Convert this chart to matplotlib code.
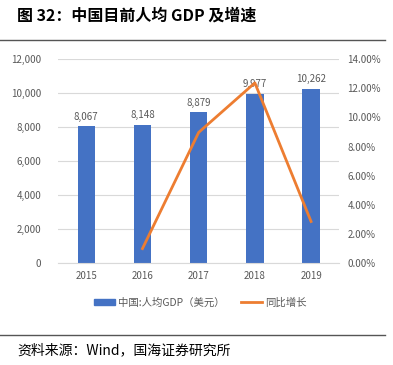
import numpy as np
import matplotlib.pyplot as plt
from matplotlib.lines import Line2D
from matplotlib.patches import Patch

plt.rcParams['font.family'] = ['Noto Sans CJK SC', 'DejaVu Sans']

years = ['2015', '2016', '2017', '2018', '2019']
gdp = [8067, 8148, 8879, 9977, 10262]
growth = [None, 1.00, 8.97, 12.37, 2.86]
gdp_labels = ['8,067', '8,148', '8,879', '9,977', '10,262']

gray = '#595959'
fig = plt.figure(figsize=(3.93, 3.65), dpi=100)
ax = fig.add_axes([0.148, 0.279, 0.715, 0.559])

x = np.arange(len(years))
ax.bar(x, gdp, width=0.31, color='#4472C4', zorder=2)
for xi, v, lab in zip(x, gdp, gdp_labels):
    ax.text(xi, v + 250, lab, ha='center', va='bottom', fontsize=7, color=gray)

ax.set_ylim(0, 12000)
ax.set_xlim(-0.5, 4.5)
ax.set_yticks(np.arange(0, 12001, 2000))
ax.set_yticklabels([f'{v:,}' for v in range(0, 12001, 2000)])
ax.set_xticks(x)
ax.set_xticklabels(years)
ax.grid(axis='y', color='#d9d9d9', lw=0.8, zorder=0)
for s in ['top', 'right', 'left']:
    ax.spines[s].set_visible(False)
ax.spines['bottom'].set_color('#d9d9d9')
ax.tick_params(axis='both', colors=gray, labelsize=7, length=0)
ax.tick_params(axis='y', pad=12)
ax.tick_params(axis='x', pad=6)

ax2 = ax.twinx()
gx = [xi for xi, g in zip(x, growth) if g is not None]
gy = [g for g in growth if g is not None]
ax2.plot(gx, gy, color='#ED7D31', lw=2, zorder=3)
ax2.set_ylim(0, 14)
ax2.set_yticks(np.arange(0, 14.1, 2))
ax2.set_yticklabels([f'{v:.2f}%' for v in np.arange(0, 14.1, 2)])
for s in ax2.spines.values():
    s.set_visible(False)
ax2.tick_params(axis='y', colors=gray, labelsize=7, length=0, pad=6)

handles = [Patch(color='#4472C4'), Line2D([], [], color='#ED7D31', lw=2)]
fig.legend(handles, ['中国:人均GDP（美元）', '同比增长'], loc='center',
           bbox_to_anchor=(0.51, 0.172), ncol=2, frameon=False, fontsize=7.5,
           labelcolor=gray, handlelength=2.0, handleheight=0.5,
           handletextpad=0.3, columnspacing=1.6)

fig.text(0.043, 0.958, '图 32：中国目前人均 GDP 及增速', fontsize=11.5,
         fontweight='bold', va='center')
fig.add_artist(Line2D([0, 0.98], [0.89, 0.89], color='#555555', lw=1))
fig.add_artist(Line2D([0, 0.98], [0.082, 0.082], color='#555555', lw=1))
fig.text(0.043, 0.04, '资料来源：Wind，国海证券研究所', fontsize=10, va='center')

fig.savefig('out.png', dpi=100)
